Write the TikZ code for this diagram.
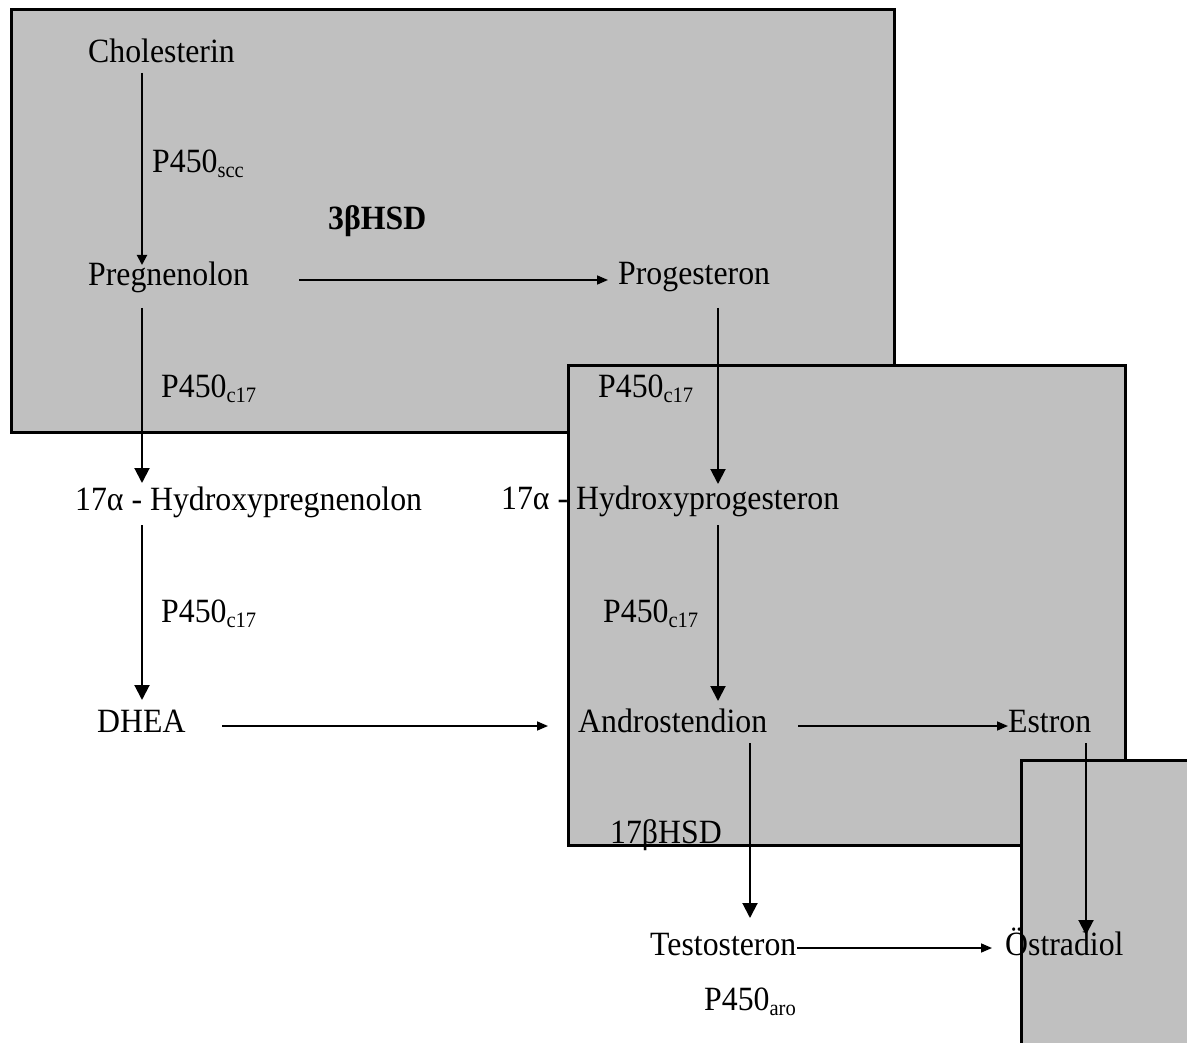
\documentclass[tikz,border=0pt]{standalone}
\usepackage{fontspec}
\setmainfont{Liberation Serif}[FakeStretch=0.935]
\usetikzlibrary{arrows.meta}
\definecolor{boxgray}{RGB}{192,192,192}
\newcommand\sbs[1]{\raisebox{-5pt}{\fontsize{22}{22}\selectfont #1}}
\begin{document}
\begin{tikzpicture}[x=1pt,y=-1pt,
  lbl/.style={anchor=base west, inner sep=0pt, font=\fontsize{34}{40}\selectfont},
  panel/.style={draw=black, line width=3pt, fill=boxgray},
  varr/.style={line width=2pt, -{Triangle[length=15pt,width=15pt]}},
  svarr/.style={line width=2pt, -{Triangle[length=10pt,width=10pt]}},
  harr/.style={line width=1.6pt, -{Triangle[length=11pt,width=9pt]}},
]
\useasboundingbox (0,0) rectangle (1187,1043);
\clip (0,0) rectangle (1187,1043);
\path[panel] (11,10) rectangle (894,432);
\path[panel] (568,365) rectangle (1125,845);
\path[panel] (1021,760) rectangle (1210,1070);

\node[lbl] (chol) at (88,63) {Cholesterin};
\node[lbl] (e1) at (152,173) {P450\sbs{scc}};
\node[lbl,font=\fontsize{34}{40}\selectfont\bfseries] (hsd3) at (328,230) {3βHSD};
\node[lbl] (preg) at (88,286) {Pregnenolon};
\node[lbl] (prog) at (618,285) {Progesteron};
\node[lbl] (e2) at (161,397) {P450\sbs{c17}};
\node[lbl] (e3) at (598,397) {P450\sbs{c17}};
\node[lbl] (ohpreg) at (75,510) {17α - Hydroxypregnenolon};
\node[lbl] (ohprog) at (501,509) {17α - Hydroxyprogesteron};
\node[lbl] (e4) at (161,622) {P450\sbs{c17}};
\node[lbl] (e5) at (603,622) {P450\sbs{c17}};
\node[lbl] (dhea) at (97,732) {DHEA};
\node[lbl] (andro) at (578,732) {Androstendion};
\node[lbl] (estron) at (1008,732) {Estron};
\node[lbl] (hsd17) at (610,843) {17βHSD};
\node[lbl] (testo) at (650,955) {Testosteron};
\node[lbl] (oestr) at (1005,955) {Östradiol};
\node[lbl] (e6) at (704,1010) {P450\sbs{aro}};

\draw[svarr] ([shift={(54,10)}]chol.base west) -- ([shift={(54,-21)}]preg.base west);
\draw[harr] ([shift={(211,-6)}]preg.base west) -- ([shift={(-10,-5)}]prog.base west);
\draw[varr] ([shift={(54,22)}]preg.base west) -- ([shift={(67,-27)}]ohpreg.base west);
\draw[varr] ([shift={(67,15)}]ohpreg.base west) -- ([shift={(45,-32)}]dhea.base west);
\draw[harr] ([shift={(125,-6)}]dhea.base west) -- ([shift={(-30,-6)}]andro.base west);
\draw[varr] ([shift={(100,23)}]prog.base west) -- ([shift={(217,-25)}]ohprog.base west);
\draw[varr] ([shift={(217,16)}]ohprog.base west) -- ([shift={(140,-31)}]andro.base west);
\draw[harr] ([shift={(220,-6)}]andro.base west) -- ([shift={(0,-6)}]estron.base west);
\draw[varr] ([shift={(172,11)}]andro.base west) -- ([shift={(100,-37)}]testo.base west);
\draw[varr] ([shift={(78,11)}]estron.base west) -- ([shift={(81,-20)}]oestr.base west);
\draw[harr] ([shift={(147,-7)}]testo.base west) -- ([shift={(-13,-7)}]oestr.base west);
\end{tikzpicture}
\end{document}
